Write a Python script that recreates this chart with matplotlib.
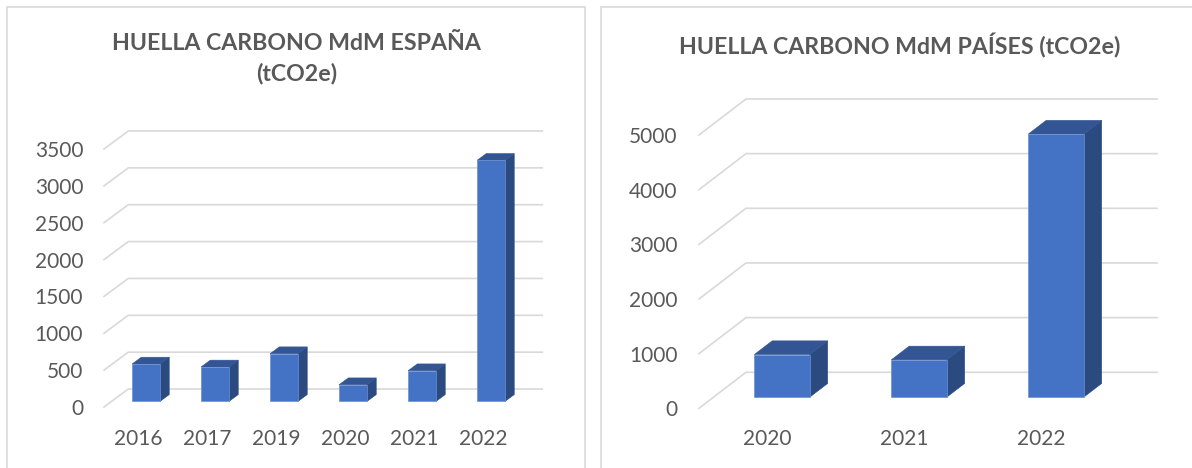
import matplotlib
matplotlib.use("Agg")
import matplotlib.pyplot as plt
from matplotlib.patches import Polygon, Rectangle

W, H = 1192, 468
plt.rcParams['font.family'] = ['Lato', 'DejaVu Sans']

GRID = '#d9d9d9'
TEXT = '#595959'
FRONT = '#4472c4'
SIDE = '#2b4a80'
TOP = '#335593'

# data
years_es = ['2016', '2017', '2019', '2020', '2021', '2022']
values_es = [507, 467, 647, 226, 416, 3270]
ticks_es = [0, 500, 1000, 1500, 2000, 2500, 3000, 3500]

years_pa = ['2020', '2021', '2022']
values_pa = [779, 682, 4813]
ticks_pa = [0, 1000, 2000, 3000, 4000, 5000]

title_es = 'HUELLA CARBONO MdM ESPAÑA\n(tCO2e)'
title_pa = 'HUELLA CARBONO MdM PAÍSES (tCO2e)'

BAR_W = 0.405
D0 = 0.31     # where the bars start in the depth of the floor
DEPTH = 0.38  # bar depth


def px_axes(fig, left, right, top, bottom):
    return fig.add_axes([left / W, 1 - bottom / H, (right - left) / W, (bottom - top) / H])


def chart(fig, box, years, values, ticks, dx, dy, ypad, xpad):
    ax = px_axes(fig, *box)
    n = len(years)
    ax.set_xlim(-0.5, n - 0.5)
    ax.set_ylim(ticks[0], ticks[-1])
    ax.patch.set_visible(False)
    for s in ax.spines.values():
        s.set_visible(False)

    # floor/back wall lines, oblique projection
    for t in ticks:
        ax.plot([-0.5, -0.5 + dx, n - 0.5 + dx], [t, t + dy, t + dy], color=GRID, lw=1.2,
                clip_on=False, solid_joinstyle='miter', zorder=1)

    xs = [i + D0 * dx for i in range(n)]
    ax.bar(xs, values, BAR_W, bottom=D0 * dy, color=FRONT, edgecolor='#6d90d2', linewidth=0.5,
           clip_on=False, zorder=4)
    ddx, ddy = DEPTH * dx, DEPTH * dy
    for x, v in zip(xs, values):
        l, r = x - BAR_W / 2, x + BAR_W / 2
        b, t = D0 * dy, v + D0 * dy
        ax.add_patch(Polygon([(r, b), (r + ddx, b + ddy), (r + ddx, t + ddy), (r, t)], closed=True,
                             facecolor=SIDE, edgecolor=SIDE, lw=0.4, clip_on=False, zorder=3))
        ax.add_patch(Polygon([(l, t), (l + ddx, t + ddy), (r + ddx, t + ddy), (r, t)], closed=True,
                             facecolor=TOP, edgecolor=TOP, lw=0.4, clip_on=False, zorder=3))

    ax.set_xticks(range(n))
    ax.set_xticklabels(years)
    ax.set_yticks(ticks)
    ax.tick_params(axis='y', length=0, pad=ypad, labelsize=15, labelcolor=TEXT)
    ax.tick_params(axis='x', length=0, pad=xpad, labelsize=15, labelcolor=TEXT)
    return ax


fig = plt.figure(figsize=(W / 100, H / 100), dpi=100, facecolor='white')

# panel frames, open at the bottom edge of the picture
for x0, x1 in [(7, 585), (601, W + 5)]:
    fig.add_artist(Rectangle((x0 / W, -0.02), (x1 - x0) / W, 1.02 - 6.5 / H, transform=fig.transFigure,
                             facecolor='white', edgecolor=GRID, lw=1.2, zorder=-1))

chart(fig, (104, 518, 149, 407), years_es, values_es, ticks_es, 0.352, 244, 15, 16)
chart(fig, (699, 1110, 135, 408.3), years_pa, values_pa, ticks_pa, 0.343, 659, 15.5, 15)

fig.text(296.5 / W, 1 - 33 / H, title_es, ha='center', va='top', fontsize=16.7, fontweight='bold',
         color=TEXT, linespacing=1.5)
fig.text(900 / W, 1 - 33 / H, title_pa, ha='center', va='top', fontsize=16.7, fontweight='bold',
         color=TEXT)

fig.savefig('out.png', dpi=100)
